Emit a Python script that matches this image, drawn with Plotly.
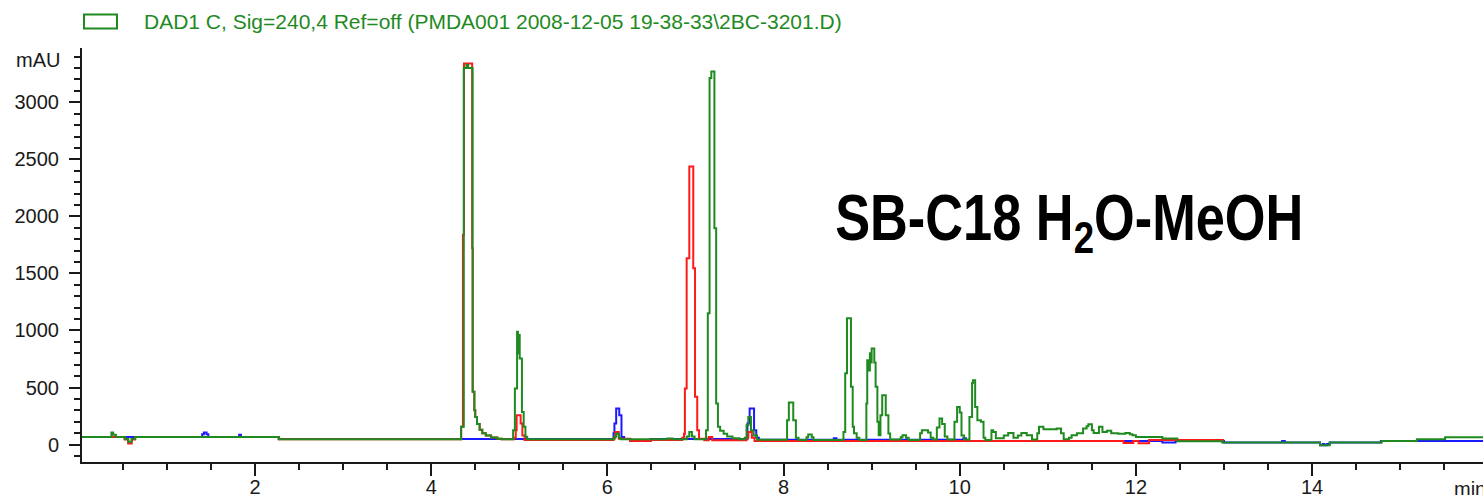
import plotly.graph_objects as go

# ---- data (time in min, signal in mAU) ----
green_t = [0.03, 0.37, 0.39, 0.42, 0.52, 0.56, 0.60, 0.64, 2.27,
           4.34, 4.37, 4.40, 4.42, 4.47, 4.49, 4.50, 4.52, 4.55, 4.58, 4.62, 4.68, 4.75, 4.80,
           4.93, 4.95, 4.975, 4.985, 4.995, 5.005, 5.03, 5.05, 5.07, 5.09,
           6.08, 6.10, 6.13, 6.15, 6.68, 6.74, 6.90, 6.93, 6.96, 6.99,
           7.12, 7.14, 7.16, 7.18, 7.215, 7.235, 7.255, 7.28, 7.32, 7.36, 7.42, 7.50,
           7.56, 7.58, 7.60, 7.63, 7.66, 7.70,
           8.04, 8.06, 8.11, 8.14, 8.17, 8.26, 8.28, 8.32, 8.34,
           8.68, 8.70, 8.72, 8.765, 8.785, 8.80, 8.83, 8.86,
           8.94, 8.95, 8.97, 8.98, 8.99, 9.00, 9.03, 9.045, 9.065, 9.08,
           9.10, 9.12, 9.16, 9.19, 9.21, 9.33, 9.35, 9.39, 9.42,
           9.55, 9.57, 9.64, 9.67, 9.70, 9.74, 9.77, 9.80, 9.83, 9.86,
           9.94, 9.97, 10.00, 10.02, 10.05, 10.11, 10.14, 10.15, 10.175, 10.20, 10.24, 10.27,
           10.29, 10.36, 10.38, 10.41, 10.45, 10.50, 10.55, 10.61, 10.66, 10.70, 10.76, 10.82,
           10.88, 10.90, 10.95, 11.10, 11.15, 11.18, 11.24, 11.27, 11.33, 11.40, 11.44, 11.46,
           11.50, 11.52, 11.58, 11.62, 11.67, 11.72, 11.80, 11.88, 11.93, 11.96, 12.00, 12.30,
           12.47, 12.98, 14.09, 14.20, 14.79, 15.19, 15.51, 16.0]
green_v = [67, 105, 85, 67, 50, 25, 50, 67, 46,
           155, 3300, 3330, 3300, 462, 300, 242, 180, 130, 100, 80, 62, 50, 46,
           125, 491, 988, 800, 960, 755, 286, 155, 68, 46,
           70, 95, 60, 46, 53, 46, 70, 110, 70, 46,
           125, 1150, 3212, 3270, 1896, 360, 155, 120, 95, 70, 55, 46,
           60, 170, 242, 125, 80, 42,
           213, 369, 213, 60, 40, 65, 88, 65, 40,
           110, 626, 1106, 506, 155, 100, 60, 40,
           360, 740, 650, 800, 720, 843, 720, 506, 200, 82,
           257, 433, 257, 97, 45, 65, 82, 60, 40,
           100, 125, 105, 60, 45, 150, 228, 180, 70, 45,
           200, 330, 280, 80, 45, 242, 540, 564, 330, 213, 200, 60,
           40, 125, 110, 55, 55, 80, 102, 60, 80, 102, 82, 44,
           100, 155, 134, 140, 100, 46, 60, 82, 100, 140, 160, 178,
           125, 102, 155, 110, 120, 100, 95, 102, 90, 82, 67, 53,
           29, 18, -6, 18, 30, 47, 64, 64]

red_t = [0.03, 0.52, 0.56, 0.60, 0.64, 2.27,
         4.34, 4.36, 4.372, 4.465, 4.472, 4.49, 4.50, 4.52, 4.55, 4.58, 4.62, 4.68, 4.75, 4.80,
         4.94, 4.96, 4.97, 5.015, 5.035, 5.06,
         6.07, 6.09, 6.13, 6.26, 6.49, 6.85, 6.87, 6.88, 6.90, 6.93, 6.975, 6.995, 7.02, 7.04,
         7.10, 7.15, 7.19, 7.58, 7.60, 7.64, 7.67,
         11.86, 11.97, 12.03, 12.15, 13.0]
red_v = [67, 45, 10, 45, 67, 46,
         155, 1840, 3340, 1720, 462, 300, 242, 180, 130, 100, 80, 62, 50, 46,
         60, 125, 257, 184, 80, 40,
         60, 110, 50, 32, 40, 60, 95, 491, 1632, 2437, 1545, 418, 125, 50,
         38, 67, 38, 60, 110, 60, 30,
         14, 30, 12, 40, 40]

blue_t = [0.03, 1.39, 1.40, 1.42, 1.45, 1.47, 1.81, 1.82, 1.84, 2.27,
          6.07, 6.08, 6.10, 6.135, 6.16, 6.19, 6.26, 6.49,
          7.59, 7.615, 7.665, 7.69, 7.72, 8.57, 8.60, 10.04, 10.07,
          11.86, 11.97, 12.30, 12.45, 13.0, 13.66, 13.69, 14.09, 14.12, 14.14, 14.17, 14.20,
          14.78, 14.80, 16.0]
blue_v = [67, 67, 90, 105, 90, 67, 67, 85, 67, 48,
          100, 184, 316, 257, 67, 48, 32, 48,
          185, 316, 125, 60, 42, 55, 42, 55, 32,
          32, 30, 18, 30, 18, 30, 18, -6, 5, -6, 5, 18,
          30, 30, 30]

x_range = [0.036, 15.94]
y_range = [-153, 3476]
legend_label = "DAD1 C, Sig=240,4 Ref=off (PMDA001 2008-12-05 19-38-33\\2BC-3201.D)"
title_text = "SB-C18 H<sub>2</sub>O-MeOH"

GREEN = "#1f8a1f"
RED = "#ff1a1a"
BLUE = "#1a1aff"

fig = go.Figure()
fig.add_trace(go.Scatter(x=blue_t, y=blue_v, mode="lines", line=dict(color=BLUE, width=2, shape="hv"),
                         showlegend=False, hoverinfo="skip"))
fig.add_trace(go.Scatter(x=red_t, y=red_v, mode="lines", line=dict(color=RED, width=2, shape="hv"),
                         showlegend=False, hoverinfo="skip"))
fig.add_trace(go.Scatter(x=green_t, y=green_v, mode="lines", line=dict(color=GREEN, width=2, shape="hv"),
                         showlegend=False, hoverinfo="skip"))

axis_font = dict(family="Liberation Sans, Arial, sans-serif", size=20, color="#1a1a1a")

fig.update_layout(
    width=1483, height=495,
    margin=dict(l=82, r=0, t=48, b=33, autoexpand=False),
    paper_bgcolor="white", plot_bgcolor="white",
    xaxis=dict(range=x_range, showgrid=False, zeroline=False, showline=True, linecolor="#1a1a1a",
               linewidth=2, ticks="outside", ticklen=12, tickwidth=2, tickcolor="#1a1a1a",
               tick0=0, dtick=2, tickfont=axis_font, ticklabelstandoff=-6, automargin=False,
               minor=dict(dtick=0.5, tick0=0, ticks="outside", ticklen=6, tickwidth=2, tickcolor="#1a1a1a")),
    yaxis=dict(range=y_range, showgrid=False, zeroline=False, showline=True, linecolor="#1a1a1a",
               linewidth=2, ticks="outside", ticklen=11, tickwidth=2, tickcolor="#1a1a1a",
               tick0=0, dtick=500, tickfont=axis_font, ticklabelstandoff=6, automargin=False,
               minor=dict(dtick=100, tick0=0, ticks="outside", ticklen=6, tickwidth=2, tickcolor="#1a1a1a")),
)

# pixel -> paper helpers (plot area: x 82..1483, y 48..462)
def px_x(px):
    return (px - 82) / (1483 - 82)

def px_y(py):
    return (462 - py) / (462 - 48)

# legend box and label
fig.add_shape(type="rect", xref="paper", yref="paper",
              x0=px_x(84), x1=px_x(117), y0=px_y(28.5), y1=px_y(14.5),
              line=dict(color=GREEN, width=2), fillcolor="rgba(0,0,0,0)")
fig.add_annotation(xref="paper", yref="paper", x=px_x(142), y=px_y(21.5), xanchor="left", yanchor="middle",
                   text=legend_label, showarrow=False,
                   font=dict(family="Liberation Sans, Arial, sans-serif", size=21, color=GREEN))

# axis unit labels
fig.add_annotation(xref="paper", yref="paper", x=px_x(62), y=px_y(60), xanchor="right", yanchor="middle",
                   text="mAU", showarrow=False, font=axis_font)
fig.add_annotation(xref="paper", yref="paper", x=px_x(1452), y=px_y(489), xanchor="left", yanchor="middle",
                   text="min", showarrow=False, font=axis_font)

# big title inside plot (index 3)
fig.add_annotation(xref="x", yref="y", x=11.25, y=1950, xanchor="center", yanchor="middle",
                   text="<b>" + title_text + "</b>", showarrow=False,
                   font=dict(family="Liberation Sans, Arial, sans-serif", size=64, color="black"))

# narrow the title horizontally (the reference uses a condensed bold face)
post_js = """
(function(){
  var gd = document.getElementById('{plot_id}');
  function fix(){
    var t = gd.querySelector('g.annotation[data-index="3"] text.annotation-text');
    if(!t) return;
    var orig = t.getAttribute('data-orig-tf');
    if(orig === null){ orig = t.getAttribute('transform') || ''; t.setAttribute('data-orig-tf', orig); }
    var bb = t.getBBox();
    var cx = bb.x + bb.width / 2;
    t.setAttribute('transform', orig + ' translate(' + cx + ' 0) scale(0.818 1) translate(' + (-cx) + ' 0)');
  }
  fix();
  if (gd && gd.on) { gd.on('plotly_afterplot', fix); }
  setTimeout(fix, 50);
})();
"""

fig.write_html("out.html", post_script=post_js)
